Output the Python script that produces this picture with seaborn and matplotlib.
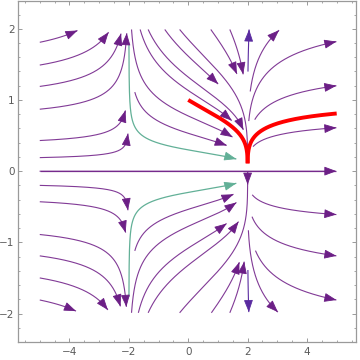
import math
import numpy as np
import matplotlib
matplotlib.use("Agg")
import matplotlib.pyplot as plt
from matplotlib.ticker import MultipleLocator
import seaborn as sns

# plot window (data units) and screen scale (pixels per unit)
X_LIM = (-5.75, 5.64)
Y_LIM = (-2.40, 2.39)
PX, PY = 29.7, 71.0

# streamlines: (tail x, tail y, head x, head y)
upper_left = [(-5.0, 1.81, -3.74, 1.99), (-5.0, 1.49, -2.72, 1.96), (-5.0, 1.19, -2.33, 1.94),
              (-5.0, 0.87, -2.14, 1.94), (-5.0, 0.43, -2.17, 0.86), (-5.0, 0.19, -2.10, 0.53)]
lower_left = [(-5.0, -0.20, -2.08, -0.55), (-5.0, -0.43, -2.19, -0.87), (-5.0, -0.89, -2.14, -1.91),
              (-5.0, -1.19, -2.36, -1.91), (-5.0, -1.50, -2.70, -1.95), (-5.0, -1.81, -3.76, -1.95)]
upper_mid = [(-1.80, 1.11, 1.29, 0.36), (-1.91, 1.99, 1.51, 0.49), (-1.62, 1.99, 1.51, 0.73),
             (-1.35, 1.99, 1.85, 0.58), (-0.79, 1.99, 1.00, 1.22), (0.76, 1.99, 1.73, 1.38),
             (1.40, 1.99, 1.84, 1.36)]
hidden_mid = [(-0.29, 1.99, 2.00, 0.20)]  # runs into the red cusp, no arrow shows
lower_mid = [(-1.80, -1.12, 1.57, -0.36), (-1.91, -1.99, 1.68, -0.47), (-1.68, -1.99, 1.29, -0.73),
             (-1.35, -1.99, 1.62, -0.69), (-0.29, -1.99, 2.00, -0.19), (0.78, -1.99, 1.68, -1.27),
             (1.40, -1.99, 1.85, -1.27)]
upper_right = [(2.24, 1.11, 3.06, 1.98), (2.05, 0.70, 4.99, 1.82), (2.12, 0.75, 4.99, 1.20),
               (2.17, 0.35, 4.99, 0.61)]
lower_right = [(2.16, -0.33, 4.99, -0.61), (2.13, -0.64, 4.99, -1.19), (2.24, -1.12, 4.99, -1.81),
               (2.01, -0.83, 3.02, -1.98)]
verticals = [(2.02, 1.40, 2.05, 1.99), (2.01, -1.39, 2.04, -1.98)]
teal_lines = [(-2.00, 1.77, 1.62, 0.17), (-2.03, -1.77, 1.62, -0.17)]
axis_line = [(-5.0, 0.0, 4.99, 0.0)]  # straight streamline along y = 0
red_left = [(0.0, 1.0, 2.0, 0.11)]
red_right = [(2.0, 0.11, 5.0, 0.81)]

PURPLE = "#813a96"
HEAD = "#6c1f86"
DARK = "#5a2ba0"
TEAL = "#62b097"
RED = "#ff0000"


# direction of the field dy/dx = y / (x^2 - 4), moving left to right, 1 px long
def unit(x, y):
    d = x * x - 4.0
    s = 1.0 if d >= 0 else -1.0
    u, v = s * d * PX, s * y * PY
    n = math.hypot(u, v)
    if n == 0.0:
        return 0.0, 0.0
    return u / n / PX, v / n / PY


def trace(x, y, sgn, h=0.4, steps=1700):
    xs, ys = [x], [y]
    for _ in range(steps):
        a = unit(x, y)
        b = unit(x + 0.5 * h * sgn * a[0], y + 0.5 * h * sgn * a[1])
        c = unit(x + 0.5 * h * sgn * b[0], y + 0.5 * h * sgn * b[1])
        d = unit(x + h * sgn * c[0], y + h * sgn * c[1])
        x += h * sgn * (a[0] + 2 * b[0] + 2 * c[0] + d[0]) / 6
        y += h * sgn * (a[1] + 2 * b[1] + 2 * c[1] + d[1]) / 6
        if not (X_LIM[0] < x < X_LIM[1] and Y_LIM[0] < y < Y_LIM[1]):
            break
        xs.append(x)
        ys.append(y)
    return np.array(xs), np.array(ys)


def streamline(tx, ty, hx, hy, anchor):
    if anchor == "straight":
        return np.array([tx, hx]), np.array([ty, hy])
    ax0, ay0 = (tx, ty) if anchor == "tail" else (hx, hy)
    bx, by = trace(ax0, ay0, -1)
    fx, fy = trace(ax0, ay0, 1)
    xs = np.concatenate([bx[::-1], fx[1:]])
    ys = np.concatenate([by[::-1], fy[1:]])
    i = np.argmin(np.hypot((xs - tx) * PX, (ys - ty) * PY))
    j = np.argmin(np.hypot((xs - hx) * PX, (ys - hy) * PY))
    if i <= j:
        return xs[i:j + 1], ys[i:j + 1]
    return xs[j:i + 1][::-1], ys[j:i + 1][::-1]


def add_arrow(ax, xs, ys, color):
    ex, ey = xs[-1], ys[-1]
    dist = np.hypot((xs - ex) * PX, (ys - ey) * PY)
    k = np.where(dist > 6)[0]
    if len(k) and len(xs) > 2:
        sx, sy = xs[k[-1]], ys[k[-1]]
    else:
        sx, sy = xs[0], ys[0]
    ax.annotate("", xy=(ex, ey), xytext=(sx, sy),
                arrowprops=dict(arrowstyle="-|>,head_length=0.75,head_width=0.28",
                                color=color, lw=0.6, shrinkA=0, shrinkB=0,
                                mutation_scale=10), zorder=4)


def draw(ax, lines, anchor, color, lw=0.8, head=None, zorder=2):
    for tx, ty, hx, hy in lines:
        xs, ys = streamline(tx, ty, hx, hy, anchor)
        sns.lineplot(x=xs, y=ys, sort=False, estimator=None, color=color,
                     linewidth=lw, ax=ax, zorder=zorder, solid_capstyle="butt")
        if head is not None:
            add_arrow(ax, xs, ys, head)


sns.set_theme(style="ticks")
plt.rcParams["font.family"] = ["DejaVu Sans"]

fig = plt.figure(figsize=(3.6, 3.6), dpi=100)
ax = fig.add_axes([17.5 / 360, 1 - 342 / 360, (355.7 - 17.5) / 360, (342 - 1) / 360])

draw(ax, upper_left, "tail", PURPLE, head=HEAD)
draw(ax, lower_left, "tail", PURPLE, head=HEAD)
draw(ax, upper_mid, "tail", PURPLE, head=HEAD)
draw(ax, hidden_mid, "tail", PURPLE)
draw(ax, lower_mid, "tail", PURPLE, head=HEAD)
draw(ax, upper_right, "head", PURPLE, head=HEAD)
draw(ax, lower_right, "head", PURPLE, head=HEAD)
draw(ax, verticals, "head", DARK, head=DARK)
draw(ax, axis_line, "straight", PURPLE, lw=0.9, head=HEAD)
draw(ax, teal_lines, "head", TEAL, lw=0.9, head=TEAL)
draw(ax, red_left, "tail", RED, lw=2.8, zorder=5)
draw(ax, red_right, "head", RED, lw=2.8, zorder=5)

ax.set_xlim(*X_LIM)
ax.set_ylim(*Y_LIM)
ax.set_xticks([-4, -2, 0, 2, 4])
ax.set_yticks([-2, -1, 0, 1, 2])
ax.xaxis.set_minor_locator(MultipleLocator(0.5))
ax.yaxis.set_minor_locator(MultipleLocator(0.2))
ax.tick_params(which="both", direction="in", top=True, right=True,
               color="#9a9a9a", labelcolor="#5a5a5a", labelsize=7.5)
ax.tick_params(which="major", length=3.0, width=0.7)
ax.tick_params(axis="x", which="major", pad=3.5)
ax.tick_params(axis="y", which="major", pad=2)
ax.tick_params(which="minor", length=1.7, width=0.6)
for sp in ax.spines.values():
    sp.set_color("#9a9a9a")
    sp.set_linewidth(0.9)
ax.set_xlabel("")
ax.set_ylabel("")

fig.savefig("out.png", dpi=100)
